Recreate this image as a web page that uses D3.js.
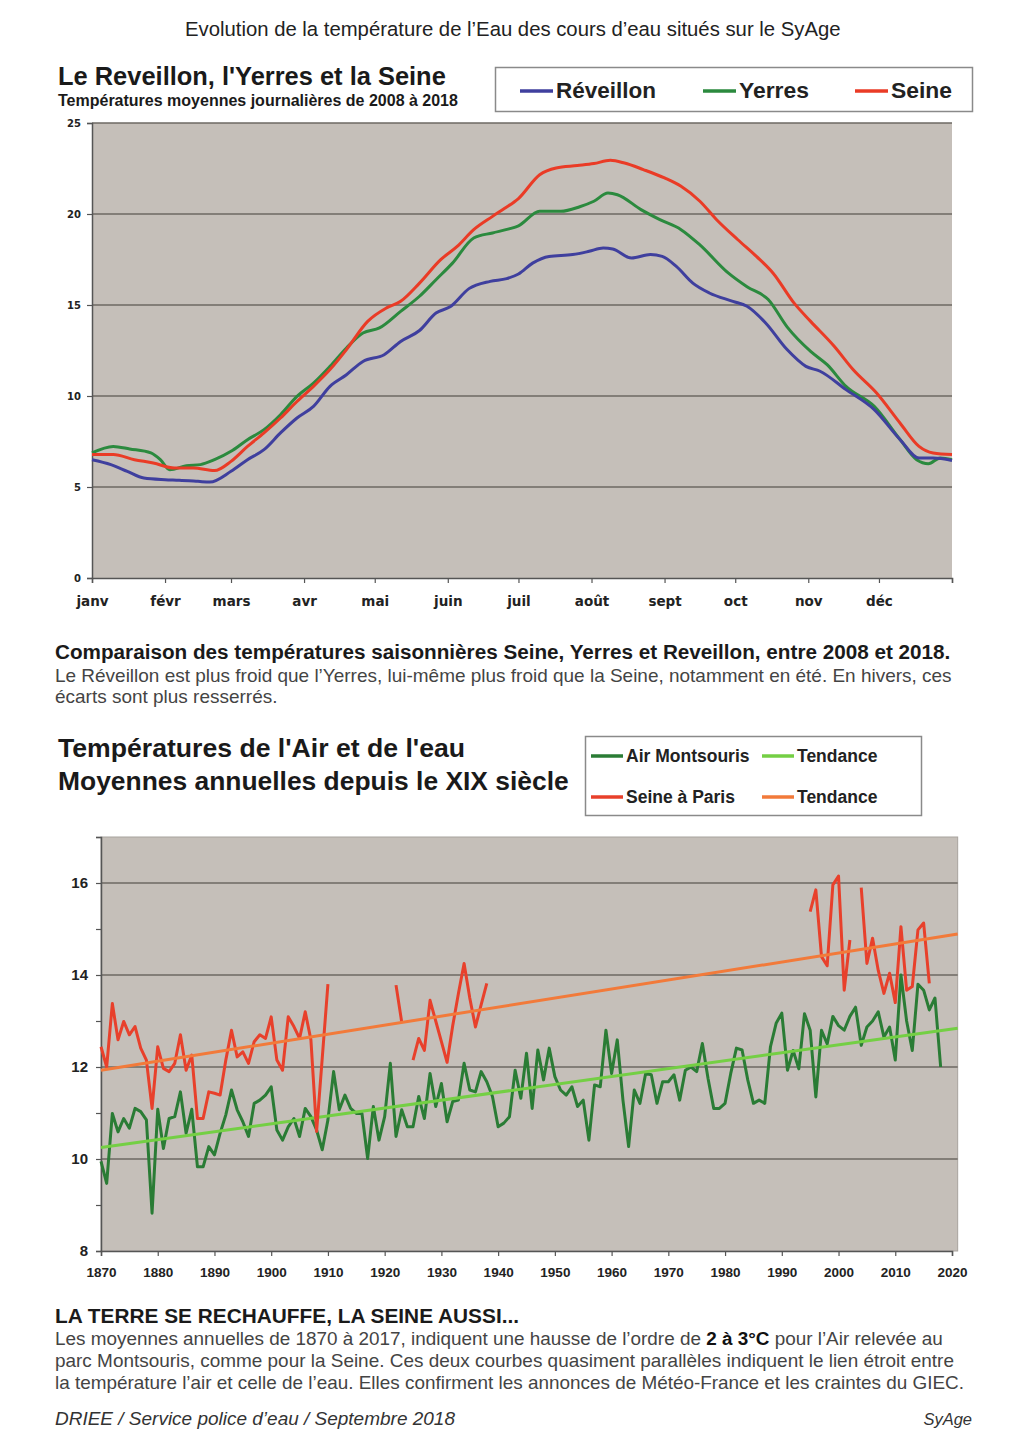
<!DOCTYPE html>
<html>
<head>
<meta charset="utf-8">
<script src="https://cdn.jsdelivr.net/npm/d3@7"></script>
<style>
  body { margin: 0; background: #fff; }
  text { font-family: "Liberation Sans", Arial, sans-serif; }
</style>
</head>
<body>
<svg id="page" width="1026" height="1452"></svg>
<script>
// ---- daily means 2008-2018, [day of year, temperature] ----
var monthLabels = ['janv', 'févr', 'mars', 'avr', 'mai', 'juin', 'juil', 'août', 'sept', 'oct', 'nov', 'déc'];
var monthStarts = [0, 31, 59, 90, 120, 151, 181, 212, 243, 273, 304, 334];

var reveillon = [[0,6.5],[8,6.23],[15,5.86],[22,5.49],[31,5.4],[37,5.37],[45,5.31],[50,5.27],[59,5.86],[66,6.5],
  [73,7.05],[80,7.97],[87,8.79],[94,9.43],[101,10.53],[108,11.17],[115,11.9],[124,12.27],[131,13.0],[139,13.6],
  [146,14.56],[152,14.9],[160,15.9],[169,16.3],[176,16.45],[181,16.7],[187,17.3],[194,17.67],[204,17.77],[211,17.95],
  [217,18.13],[221,18.08],[229,17.58],[237,17.77],[242,17.67],[248,17.12],[255,16.2],[262,15.66],[272,15.2],[278,14.93],
  [286,14.0],[295,12.55],[303,11.63],[309,11.36],[320,10.35],[332,9.25],[343,7.6],[351,6.59],[357,6.59],[365,6.46]];

var yerres = [[0,6.87],[9,7.23],[16,7.09],[25,6.87],[29,6.5],[33,5.95],[40,6.17],[46,6.23],[52,6.5],[59,6.96],
  [66,7.6],[73,8.15],[80,8.97],[87,9.98],[94,10.71],[101,11.63],[108,12.64],[115,13.46],[122,13.74],[131,14.65],
  [139,15.48],[146,16.39],[153,17.3],[162,18.68],[170,18.96],[177,19.18],[181,19.35],[190,20.15],[199,20.15],[207,20.4],
  [213,20.7],[219,21.15],[223,21.06],[233,20.24],[241,19.69],[250,19.14],[258,18.3],[270,16.76],[278,16.0],[287,15.3],
  [295,13.8],[305,12.45],[312,11.72],[320,10.53],[332,9.43],[343,7.6],[350,6.5],[355,6.28],[360,6.6],[365,6.5]];

var seine = [[0,6.78],[9,6.78],[18,6.5],[26,6.32],[35,6.04],[43,6.04],[52,5.9],[59,6.41],[66,7.23],[73,7.97],
  [80,8.79],[87,9.7],[94,10.53],[101,11.45],[108,12.55],[117,14.1],[125,14.84],[131,15.2],[139,16.2],[148,17.49],
  [155,18.22],[162,19.14],[170,19.87],[175,20.3],[181,20.85],[190,22.16],[197,22.53],[206,22.66],[213,22.77],[220,22.95],
  [226,22.8],[234,22.44],[243,21.98],[250,21.52],[258,20.7],[265,19.7],[274,18.6],[282,17.67],[289,16.76],[298,15.1],
  [305,14.1],[315,12.73],[323,11.45],[333,10.16],[343,8.5],[351,7.23],[357,6.87],[365,6.78]];

var dailyTicks = [0, 5, 10, 15, 20, 25];

// ---- annual means since 1870 ----
var airFirstYear = 1870;
var airTemps = [
  9.95, 9.47, 10.99, 10.59, 10.88, 10.67, 11.1, 11.03, 10.85, 8.82,      // 1870s
  11.08, 10.23, 10.88, 10.92, 11.46, 10.56, 11.08, 9.83, 9.83, 10.27,    // 1880s
  10.09, 10.56, 10.96, 11.5, 11.07, 10.81, 10.49, 11.21, 11.28, 11.39,   // 1890s
  11.57, 10.63, 10.41, 10.7, 10.88, 10.49, 11.1, 10.92, 10.63, 10.2,     // 1900s
  10.85, 11.9, 11.07, 11.39, 11.1, 10.99, 10.99, 10.01, 11.14, 10.41,    // 1910s
  10.92, 12.08, 10.49, 11.07, 10.7, 10.7, 11.36, 10.88, 11.86, 11.14,    // 1920s
  11.64, 10.81, 11.25, 11.28, 12.08, 11.5, 11.46, 11.9, 11.68, 11.36,    // 1930s
  10.7, 10.78, 10.92, 11.93, 11.32, 12.3, 11.1, 12.37, 11.72, 12.41,     // 1940s
  11.79, 11.5, 11.39, 11.57, 11.14, 11.28, 10.41, 11.61, 11.57, 12.8,    // 1950s
  11.86, 12.59, 11.28, 10.27, 11.5, 11.21, 11.86, 11.83, 11.21, 11.68,   // 1960s
  11.68, 11.83, 11.28, 11.93, 12.0, 11.9, 12.51, 11.75, 11.1, 11.1,      // 1970s
  11.21, 11.86, 12.41, 12.37, 11.72, 11.21, 11.28, 11.21, 12.44, 12.95,  // 1980s
  13.17, 11.93, 12.36, 11.96, 13.16, 12.8, 11.35, 12.8, 12.5, 13.1,      // 1990s
  12.9, 12.8, 13.1, 13.3, 12.47, 12.87, 13.0, 13.2, 12.65, 12.87,        // 2000s
  12.15, 14.0, 13.0, 12.36, 13.8, 13.67, 13.24, 13.5, 12.0               // 2010s
];

// seine : null breaks the line where there is no record
var seineYears = [1870, 1871, 1872, 1873, 1874, 1875, 1876, 1877, 1878, 1879,
  1880, 1881, 1882, 1883, 1884, 1885, 1886, 1887, 1888, 1889,
  1890, 1891, 1892, 1893, 1894, 1895, 1896, 1897, 1898, 1899,
  1900, 1901, 1902, 1903, 1904, 1905, 1906, 1907, 1908, 1909, 1910, 1911,
  1922, 1923, 1924,
  1925, 1926, 1927, 1928, 1929, 1930, 1931, 1932, 1933, 1934, 1935, 1936, 1937, 1938, 1939,
  1995, 1996, 1997, 1998, 1999, 2000, 2001, 2002, 2003, 2004, 2005,
  2006, 2007, 2008, 2009, 2010, 2011, 2012, 2013, 2014, 2015, 2016];
var seineTemps = [12.44, 12.0, 13.38, 12.59, 12.99, 12.7, 12.88, 12.41, 12.15, 11.1,
  12.44, 11.97, 11.9, 12.08, 12.7, 11.93, 12.26, 10.88, 10.88, 11.46,
  11.43, 11.39, 12.15, 12.8, 12.22, 12.33, 12.08, 12.55, 12.7, 12.62,
  13.09, 12.15, 11.93, 13.09, 12.88, 12.62, 13.2, 12.59, 10.6, 12.2, 13.8, null,
  13.78, 12.98, null,
  12.15, 12.62, 12.36, 13.45, 13.0, 12.55, 12.1, 12.9, 13.6, 14.25, 13.5, 12.87, 13.35, 13.82, null,
  15.38, 15.85, 14.4, 14.2, 15.96, 16.15, 13.67, 14.76, null, 15.9, 14.25,
  14.8, 14.1, 13.6, 14.04, 13.4, 15.05, 13.67, 13.75, 14.98, 15.13, 13.82];

var airTrend = [[1870, 10.25], [2021, 12.84]];
var seineTrend = [[1870, 11.93], [2021, 14.89]];
var annualTicks = d3.range(1870, 2021, 10);

var svg = d3.select('#page');
var GRAY_BG = '#c5bfb9';
var GRID = '#6c6863';

// set a text's font-size so that it spans the wanted width
function fitWidth(sel, w) {
  var cur = sel.node().getComputedTextLength();
  var fs = parseFloat(sel.attr('font-size'));
  sel.attr('font-size', (fs * w / cur).toFixed(2));
  return sel;
}

function addText(x, y, str, size, opts) {
  opts = opts || {};
  var t = svg.append('text')
    .attr('x', x).attr('y', y)
    .attr('font-size', size)
    .attr('font-weight', opts.bold ? 'bold' : 'normal')
    .attr('font-style', opts.italic ? 'italic' : 'normal')
    .attr('fill', opts.fill || '#111')
    .attr('text-anchor', opts.anchor || 'start')
    .text(str);
  if (opts.width) fitWidth(t, opts.width);
  return t;
}

// ---------------- header ----------------
addText(185, 36, 'Evolution de la température de l\u2019Eau des cours d\u2019eau situés sur le SyAge', 17, {width: 656, fill: '#222'});

// ---------------- chart 1 : daily temperatures ----------------
addText(58, 85, 'Le Reveillon, l\'Yerres et la Seine', 21, {bold: true, width: 388, fill: '#1a1a1a'});
addText(58, 106, 'Températures moyennes journalières de 2008 à 2018', 14, {bold: true, width: 400, fill: '#1a1a1a'});

var xDay = d3.scaleLinear().domain([0, 365]).range([92, 952]);
var yDay = d3.scaleLinear().domain([0, 25]).range([578, 123]);

var g1 = svg.append('g');
g1.append('rect')
  .attr('x', xDay(0)).attr('y', yDay(25))
  .attr('width', xDay(365) - xDay(0)).attr('height', yDay(0) - yDay(25))
  .attr('fill', GRAY_BG);

g1.selectAll('.grid').data(dailyTicks.slice(1)).enter().append('line')
  .attr('x1', xDay(0)).attr('x2', xDay(365))
  .attr('y1', function(d) { return yDay(d); })
  .attr('y2', function(d) { return yDay(d); })
  .attr('stroke', GRID).attr('stroke-width', 1.5);

// y axis
var yAx1 = g1.append('g')
  .attr('transform', 'translate(' + xDay(0) + ',0)')
  .call(d3.axisLeft(yDay).tickValues(dailyTicks).tickSize(5).tickPadding(6));
yAx1.selectAll('text').attr('font-size', 10).attr('font-weight', 'bold').attr('fill', '#222')
  .style('font-family', '"DejaVu Sans", sans-serif');

// x axis : ticks on month starts
var xAx1 = g1.append('g')
  .attr('transform', 'translate(0,' + yDay(0) + ')')
  .call(d3.axisBottom(xDay).tickValues(monthStarts.concat([365])).tickSize(5).tickPadding(13)
    .tickFormat(function(d) { var i = monthStarts.indexOf(d); return i < 0 ? '' : monthLabels[i]; }));
xAx1.selectAll('text').attr('font-size', 13.5).attr('font-weight', 'bold').attr('fill', '#222')
  .style('font-family', '"DejaVu Sans", sans-serif');

[yAx1, xAx1].forEach(function(a) {
  a.select('.domain').attr('stroke', '#555').attr('stroke-width', 1.5);
  a.selectAll('.tick line').attr('stroke', '#555').attr('stroke-width', 1.2);
});

var dayLine = d3.line()
  .x(function(d) { return xDay(d[0]); })
  .y(function(d) { return yDay(d[1]); })
  .curve(d3.curveMonotoneX);

var dailySeries = [
  {name: 'Réveillon', data: reveillon, color: '#3f3f9e', labelW: 100},
  {name: 'Yerres', data: yerres, color: '#2b8a3e', labelW: 70},
  {name: 'Seine', data: seine, color: '#ea3b26', labelW: 61}
];
// seine drawn last, on top
[dailySeries[1], dailySeries[0], dailySeries[2]].forEach(function(s) {
  g1.append('path').datum(s.data)
    .attr('d', dayLine)
    .attr('fill', 'none')
    .attr('stroke', s.color)
    .attr('stroke-width', 3)
    .attr('stroke-linejoin', 'round');
});

// legend 1
svg.append('rect').attr('x', 495.5).attr('y', 67.5).attr('width', 477).attr('height', 44)
  .attr('fill', '#fff').attr('stroke', '#8a8a8a').attr('stroke-width', 1.5);
var leg1X = [520, 703, 855];
dailySeries.forEach(function(s, i) {
  svg.append('line').attr('x1', leg1X[i]).attr('x2', leg1X[i] + 33).attr('y1', 91).attr('y2', 91)
    .attr('stroke', s.color).attr('stroke-width', 3.5);
  addText(leg1X[i] + 36, 98, s.name, 20, {bold: true, fill: '#222', width: s.labelW});
});

// caption 1
addText(55, 659, 'Comparaison des températures saisonnières Seine, Yerres et Reveillon, entre 2008 et 2018.', 17.5, {bold: true, width: 896, fill: '#1a1a1a'});
var para1 = addText(55, 682, 'Le Réveillon est plus froid que l\u2019Yerres, lui-même plus froid que la Seine, notamment en été. En hivers, ces', 16, {width: 897, fill: '#444'});
addText(55, 703, 'écarts sont plus resserrés.', para1.attr('font-size'), {fill: '#444'});

// ---------------- chart 2 : annual means ----------------
addText(58, 757, 'Températures de l\'Air et de l\'eau', 23, {bold: true, width: 407, fill: '#1a1a1a'});
addText(58, 790, 'Moyennes annuelles depuis le XIX siècle', 23, {bold: true, width: 511, fill: '#1a1a1a'});

var xYear = d3.scaleLinear().domain([1870, 2020]).range([101, 952]);
var yTemp = d3.scaleLinear().domain([8, 17]).range([1251, 837]);
var xEnd = xYear(2021);

var g2 = svg.append('g');
g2.append('rect')
  .attr('x', xYear(1870)).attr('y', yTemp(17))
  .attr('width', xEnd - xYear(1870)).attr('height', yTemp(8) - yTemp(17))
  .attr('fill', GRAY_BG).attr('stroke', '#a8a39e').attr('stroke-width', 1);

g2.selectAll('.grid').data([10, 12, 14, 16]).enter().append('line')
  .attr('x1', xYear(1870)).attr('x2', xEnd)
  .attr('y1', function(d) { return yTemp(d); })
  .attr('y2', function(d) { return yTemp(d); })
  .attr('stroke', GRID).attr('stroke-width', 1.5);

var yAx2 = g2.append('g')
  .attr('transform', 'translate(' + xYear(1870) + ',0)')
  .call(d3.axisLeft(yTemp).ticks(9).tickSize(5).tickPadding(8)
    .tickFormat(function(d) { return d % 2 === 0 ? d : ''; }));
yAx2.selectAll('text').attr('font-size', 15).attr('font-weight', 'bold').attr('fill', '#222');

var xAx2 = g2.append('g')
  .attr('transform', 'translate(0,' + yTemp(8) + ')')
  .call(d3.axisBottom(xYear).tickValues(annualTicks).tickSize(5).tickPadding(11).tickFormat(d3.format('d')));
xAx2.selectAll('text').attr('font-size', 13.5).attr('font-weight', 'bold').attr('fill', '#222');

[yAx2, xAx2].forEach(function(a) {
  a.select('.domain').attr('stroke', '#555').attr('stroke-width', 1.5);
  a.selectAll('.tick line').attr('stroke', '#555').attr('stroke-width', 1.2);
});

var yearLine = d3.line()
  .defined(function(d) { return d[1] !== null; })
  .x(function(d) { return xYear(d[0]); })
  .y(function(d) { return yTemp(d[1]); });

var airData = airTemps.map(function(v, i) { return [airFirstYear + i, v]; });
var seineData = seineYears.map(function(y, i) { return [y, seineTemps[i]]; });

var annualSeries = [
  {name: 'Air Montsouris', data: airData, color: '#2a7c35'},
  {name: 'Tendance', data: airTrend, color: '#74cf44'},
  {name: 'Seine à Paris', data: seineData, color: '#e8402b'},
  {name: 'Tendance', data: seineTrend, color: '#f27a3a'}
];
annualSeries.forEach(function(s) {
  g2.append('path').datum(s.data)
    .attr('d', yearLine)
    .attr('fill', 'none')
    .attr('stroke', s.color)
    .attr('stroke-width', 3)
    .attr('stroke-linejoin', 'round');
});

// legend 2
svg.append('rect').attr('x', 585.5).attr('y', 736.5).attr('width', 336).attr('height', 79)
  .attr('fill', '#fff').attr('stroke', '#8a8a8a').attr('stroke-width', 1.5);
var leg2Pos = [[591, 756], [762, 756], [591, 797], [762, 797]];
annualSeries.forEach(function(s, i) {
  var p = leg2Pos[i];
  svg.append('line').attr('x1', p[0]).attr('x2', p[0] + 32).attr('y1', p[1]).attr('y2', p[1])
    .attr('stroke', s.color).attr('stroke-width', 3.5);
  addText(p[0] + 35, p[1] + 6, s.name, 17.5, {bold: true, fill: '#222'});
});

// caption 2
addText(55, 1323, 'LA TERRE SE RECHAUFFE, LA SEINE AUSSI...', 17, {bold: true, width: 464, fill: '#1a1a1a'});
var p1 = svg.append('text').attr('x', 55).attr('y', 1345).attr('font-size', 16).attr('fill', '#444');
p1.append('tspan').text('Les moyennes annuelles de 1870 à 2017, indiquent une hausse de l\u2019ordre de ');
p1.append('tspan').attr('font-weight', 'bold').attr('fill', '#111').text('2 à 3°C');
p1.append('tspan').text(' pour l\u2019Air relevée au');
fitWidth(p1, 888);
addText(55, 1367, 'parc Montsouris, comme pour la Seine. Ces deux courbes quasiment parallèles indiquent le lien étroit entre', 16, {width: 899, fill: '#444'});
addText(55, 1389, 'la température l\u2019air et celle de l\u2019eau. Elles confirment les annonces de Météo-France et les craintes du GIEC.', 16, {width: 909, fill: '#444'});

// footer
addText(55, 1425, 'DRIEE / Service police d\u2019eau / Septembre 2018', 16.5, {italic: true, width: 400, fill: '#333'});
addText(972, 1425, 'SyAge', 16.5, {italic: true, anchor: 'end', fill: '#333'});
</script>
</body>
</html>
